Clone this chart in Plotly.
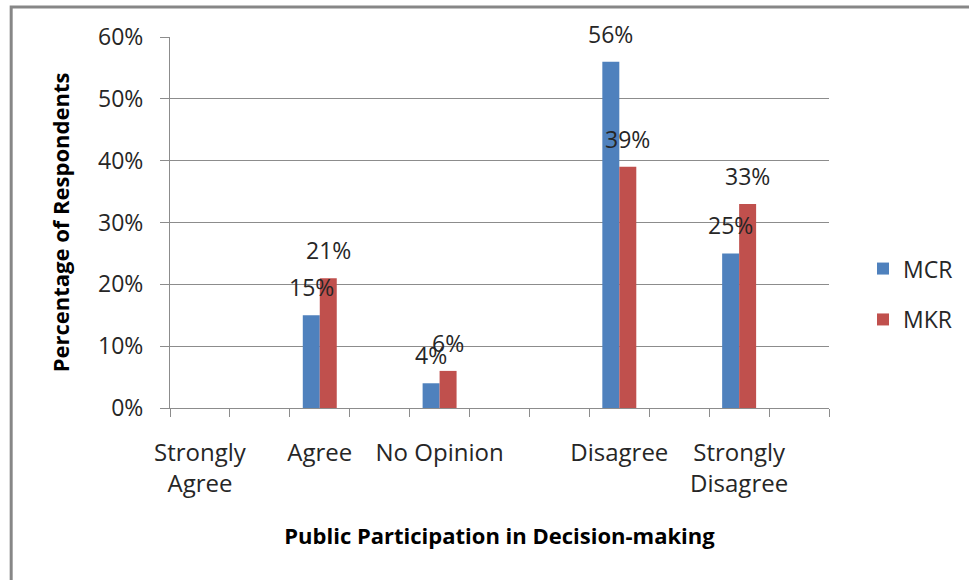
import plotly.graph_objects as go

# Response categories along the x axis (blank slots are empty category positions)
categories = ["Strongly<br>Agree", "", "Agree", "", "No Opinion", "", "",
              "Disagree", "", "Strongly<br>Disagree", ""]
mcr_values = [None, None, 0.15, None, 0.04, None, None, 0.56, None, 0.25, None]
mkr_values = [None, None, 0.21, None, 0.06, None, None, 0.39, None, 0.33, None]
series_names = ["MCR", "MKR"]
series_colors = ["#4F81BD", "#C0504D"]
y_ticks = [0, 0.1, 0.2, 0.3, 0.4, 0.5, 0.6]

FONT = "Open Sans"
TEXT_COLOR = "#262626"
GRID_COLOR = "#8c8c8c"
BAR_GAP = 0.433

positions = list(range(len(categories)))
label_positions = [i for i, c in enumerate(categories) if c]
label_text = [categories[i] for i in label_positions]

fig = go.Figure()
for name, values, color in zip(series_names, [mcr_values, mkr_values], series_colors):
    fig.add_trace(go.Bar(
        x=positions, y=values, name=name, marker_color=color,
        marker_line_width=0, legendgroup=name,
    ))

# Value labels above each bar
half = (1 - BAR_GAP) / 4
for k, values in enumerate([mcr_values, mkr_values]):
    offset = -half if k == 0 else half
    for i, v in enumerate(values):
        if v is None:
            continue
        fig.add_annotation(
            x=i + offset, y=v, text=f"{v:.0%}", showarrow=False,
            yanchor="bottom", yshift=10,
            font=dict(family=FONT, size=23, color=TEXT_COLOR),
        )

# Outer chart frame
fig.add_shape(type="rect", xref="paper", yref="paper",
              x0=-0.241, x1=1.4, y0=-0.7, y1=1.081,
              line=dict(color="#878787", width=3), layer="above")

fig.update_layout(
    width=969, height=580,
    margin=dict(l=170, r=139, t=37, b=172),
    paper_bgcolor="white", plot_bgcolor="white",
    barmode="group", bargap=BAR_GAP, bargroupgap=0,
    font=dict(family=FONT, size=23, color=TEXT_COLOR),
    legend=dict(x=1.05, y=0.307, xanchor="left", yanchor="middle",
                font=dict(family=FONT, size=23, color=TEXT_COLOR),
                tracegroupgap=18, traceorder="grouped"),
    showlegend=True,
)

fig.update_xaxes(
    range=[-0.5, len(categories) - 0.5],
    tickmode="array", tickvals=label_positions, ticktext=label_text,
    ticks="outside", ticklen=8, tickcolor="rgba(0,0,0,0)",
    ticklabelstandoff=15,
    minor=dict(tickmode="array",
               tickvals=[p - 0.5 for p in positions] + [len(categories) - 0.5],
               ticks="outside", ticklen=8, tickcolor=GRID_COLOR, showgrid=False),
    showline=True, linecolor=GRID_COLOR, linewidth=1,
    showgrid=False, zeroline=False,
    tickfont=dict(family=FONT, size=24, color=TEXT_COLOR),
    title=dict(text="<b>Public Participation in Decision-making</b>",
               font=dict(family=FONT, size=22, color="black"), standoff=30),
)

fig.update_yaxes(
    range=[0, 0.6], tickmode="array", tickvals=y_ticks, tickformat=".0%",
    ticks="outside", ticklen=9, tickcolor=GRID_COLOR,
    ticklabelstandoff=12,
    showline=True, linecolor=GRID_COLOR, linewidth=1,
    showgrid=True, gridcolor=GRID_COLOR, gridwidth=1, zeroline=False,
    tickfont=dict(family=FONT, size=23, color=TEXT_COLOR),
    title=dict(text="<b>Percentage of Respondents</b>",
               font=dict(family=FONT, size=22, color="black"), standoff=22),
)

fig.write_html("out.html")
